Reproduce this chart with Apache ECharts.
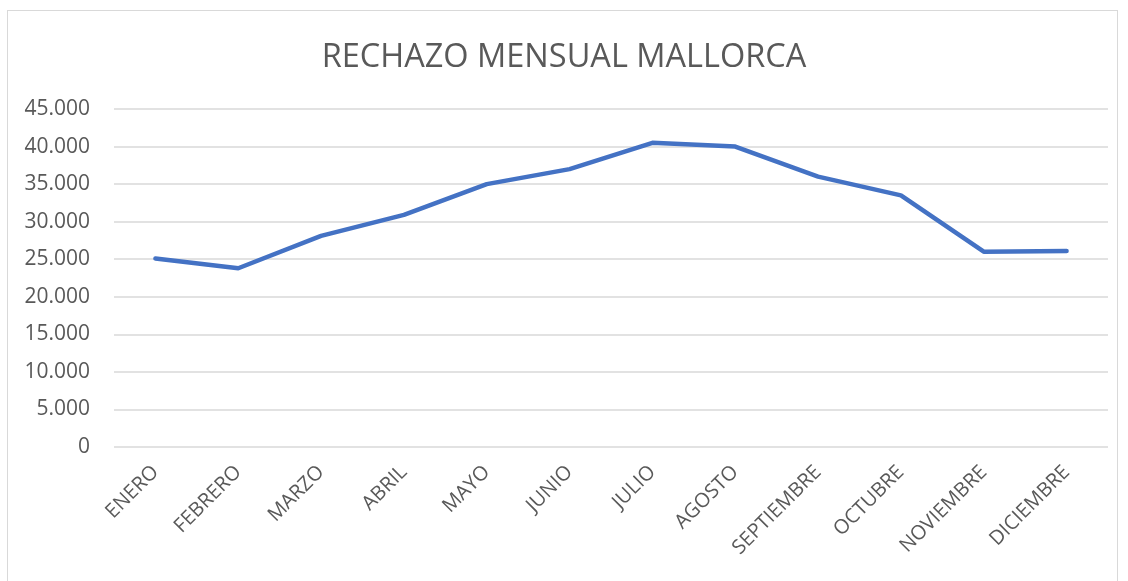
<!DOCTYPE html>
<html>
<head>
<meta charset="utf-8">
<script src="https://cdn.jsdelivr.net/npm/echarts@6/dist/echarts.min.js"></script>
<style>
  html, body { margin: 0; padding: 0; background: #fff; }
  #frame {
    position: absolute; left: 7px; top: 10px; width: 1111px; height: 600px;
    border: 1px solid #d9d9d9; box-sizing: border-box;
  }
  #chart { position: absolute; left: 0; top: 0; width: 1128px; height: 581px; }
</style>
</head>
<body>
<div id="frame"></div>
<div id="chart"></div>
<script>
const months = ['ENERO', 'FEBRERO', 'MARZO', 'ABRIL', 'MAYO', 'JUNIO', 'JULIO',
  'AGOSTO', 'SEPTIEMBRE', 'OCTUBRE', 'NOVIEMBRE', 'DICIEMBRE'];
const rechazo = [25100, 23800, 28100, 30900, 35000, 37000, 40500, 40000, 36000, 33500, 26000, 26100];

const fontFamily = '"Open Sans", "Noto Sans", sans-serif';

const chart = echarts.init(document.getElementById('chart'));
chart.setOption({
  animation: false,
  title: {
    text: 'RECHAZO MENSUAL MALLORCA',
    left: 'center',
    top: 36,
    textStyle: { fontFamily, fontSize: 32.5, fontWeight: 'normal', color: '#595959' }
  },
  grid: { left: 114, right: 20, top: 109, bottom: 134 },
  xAxis: {
    type: 'category',
    data: months,
    boundaryGap: true,
    axisLine: { show: false },
    axisTick: { show: false },
    axisLabel: {
      interval: 0,
      rotate: 45,
      margin: 22,
      fontFamily,
      fontSize: 20,
      color: '#595959'
    }
  },
  yAxis: {
    type: 'value',
    min: 0,
    max: 45000,
    interval: 5000,
    axisLine: { show: false },
    axisTick: { show: false },
    splitLine: { lineStyle: { color: '#d9d9d9', width: 1.5 } },
    axisLabel: {
      margin: 24,
      fontFamily,
      fontSize: 21,
      color: '#595959',
      formatter: v => v.toString().replace(/\B(?=(\d{3})+(?!\d))/g, '.')
    }
  },
  series: [{
    name: 'Rechazo',
    type: 'line',
    data: rechazo,
    showSymbol: false,
    lineStyle: { color: '#4472C4', width: 4.5, cap: 'round', join: 'round' },
    itemStyle: { color: '#4472C4' }
  }]
});
</script>
</body>
</html>
